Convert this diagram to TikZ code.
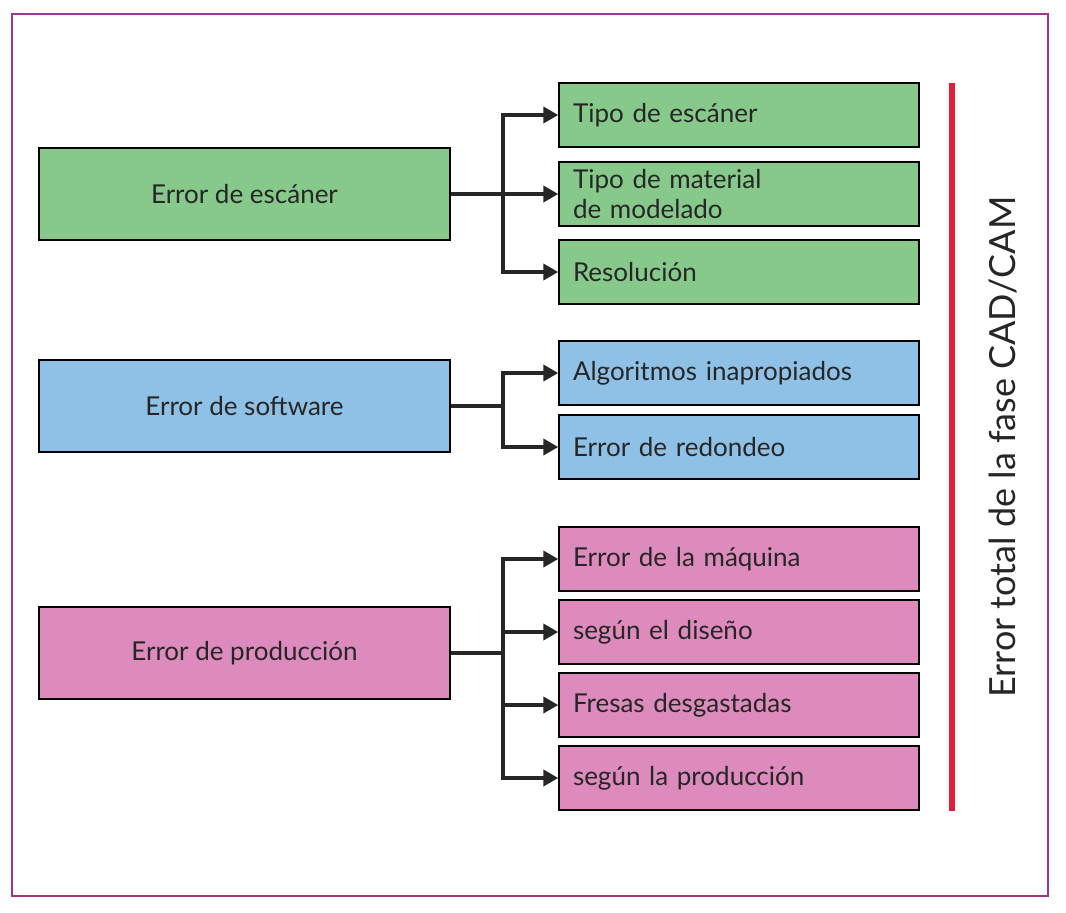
\documentclass[tikz,border=0pt]{standalone}
\usepackage{fontspec}
\setmainfont{Lato}
\usepackage{tikz}
\usetikzlibrary{arrows.meta, positioning, calc}
\definecolor{scancol}{RGB}{135,201,139}
\definecolor{softcol}{RGB}{143,193,230}
\definecolor{prodcol}{RGB}{221,139,188}
\definecolor{framecol}{RGB}{163,52,145}
\definecolor{totalcol}{RGB}{226,30,60}

\begin{document}
\begin{tikzpicture}[
  x=0.5pt, y=-0.5pt,
  font=\fontsize{13}{15}\selectfont,
  cause/.style={draw=black, line width=0.7pt, minimum width=205.5pt,
                minimum height=46pt, align=center, text=black!85},
  item/.style={draw=black, line width=0.7pt, text width=166pt, inner xsep=7pt,
               minimum height=32pt, align=left, text=black!85},
  feed/.style={line width=2pt, black!85},
  flow/.style={-{Triangle[length=7.5pt, width=8pt]}, line width=2pt, black!85}
]
  \useasboundingbox (0,0) rectangle (1066,912);
  \draw[framecol, line width=1.3pt] (12,14) rectangle (1048,896);

  % causes
  \node[cause, fill=scancol] (scan) at (244.5,194) {Error de escáner};
  \node[cause, fill=softcol] (soft) at (244.5,406) {Error de software};
  \node[cause, fill=prodcol] (prod) at (244.5,653) {Error de producción};

  % sources
  \node[item, fill=scancol] (s1) at (739,115) {Tipo de escáner};
  \node[item, fill=scancol] (s2) at (739,194) {Tipo de material\\de modelado};
  \node[item, fill=scancol] (s3) at (739,272) {Resolución};
  \node[item, fill=softcol] (w1) at (739,373) {Algoritmos inapropiados};
  \node[item, fill=softcol] (w2) at (739,447) {Error de redondeo};
  \node[item, fill=prodcol] (p1) at (739,559) {Error de la máquina};
  \node[item, fill=prodcol] (p2) at (739,632) {según el diseño};
  \node[item, fill=prodcol] (p3) at (739,705) {Fresas desgastadas};
  \node[item, fill=prodcol] (p4) at (739,778) {según la producción};

  % branching
  \coordinate (bs) at (503,194);
  \coordinate (bw) at (503,406);
  \coordinate (bp) at (503,653);
  \draw[feed] (scan.east) -- (bs);
  \draw[feed] (soft.east) -- (bw);
  \draw[feed] (prod.east) -- (bp);
  \foreach \t in {s1,s2,s3} \draw[flow] (bs) |- (\t.west);
  \foreach \t in {w1,w2} \draw[flow] (bw) |- (\t.west);
  \foreach \t in {p1,p2,p3,p4} \draw[flow] (bp) |- (\t.west);

  % total
  \coordinate (ttop) at (952,83);
  \coordinate (tbot) at (952,811);
  \draw[totalcol, line width=3pt] (ttop) -- (tbot);
  \node[rotate=90, font=\fontsize{18}{21}\selectfont, text=black!85] (total)
    at (1003,447) {Error total de la fase CAD/CAM};
\end{tikzpicture}
\end{document}
